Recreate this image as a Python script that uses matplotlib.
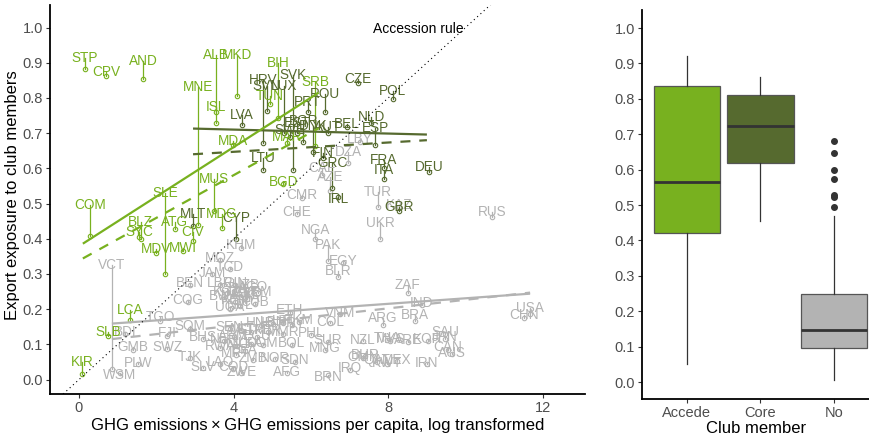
import matplotlib
matplotlib.use("Agg")
import matplotlib.pyplot as plt

plt.rcParams['font.family'] = ['Liberation Sans', 'DejaVu Sans']

# colours per club status
c_acc = "#78B11F"
c_core = "#566A2F"
c_no = "#B3B3B3"

# accession countries: code, x, label level, observed level
acc_code = ["STP", "CPV", "AND", "ALB", "MKD", "BIH", "MNE", "ISL", "TUN", "SRB",
            "MDA", "MAR", "MUS", "BGD", "COM", "SLE", "BLZ", "SYC", "ATG", "CIV",
            "MDG", "MDV", "MWI", "LCA", "SLB", "KIR"]
acc_x = [0.16, 0.70, 1.66, 3.54, 4.09, 5.15, 3.08, 3.54, 4.94, 6.11,
         3.98, 5.38, 3.49, 5.28, 0.28, 2.23, 1.60, 1.55, 2.48, 2.95,
         3.70, 1.99, 2.69, 1.32, 0.75, 0.08]
acc_lab = [0.913, 0.874, 0.905, 0.922, 0.922, 0.899, 0.831, 0.774, 0.805, 0.844,
           0.678, 0.689, 0.570, 0.561, 0.496, 0.530, 0.447, 0.419, 0.447, 0.419,
           0.470, 0.371, 0.374, 0.197, 0.135, 0.050]
acc_pt = [0.882, 0.862, 0.854, 0.760, 0.805, 0.743, 0.440, 0.729, 0.783, 0.663,
          0.666, 0.672, 0.480, 0.556, 0.408, 0.300, 0.399, 0.405, 0.428, 0.393,
          0.430, 0.359, 0.365, 0.169, 0.125, 0.016]

# core members
core_code = ["HRV", "SVK", "SVN", "LUX", "LVA", "PRT", "ROU", "CZE", "POL", "NLD",
             "ESP", "BEL", "AUT", "SWE", "EST", "BGR", "DNK", "FIN", "GRC", "IRL",
             "FRA", "ITA", "DEU", "GBR", "LTU", "MLT", "CYP"]
core_x = [4.76, 5.54, 4.86, 5.30, 4.22, 5.92, 6.36, 7.22, 8.12, 7.56,
          7.66, 6.93, 6.44, 5.46, 5.64, 5.80, 6.05, 6.31, 6.55, 6.70,
          7.89, 7.89, 9.06, 8.28, 4.76, 2.95, 4.06]
core_lab = [0.851, 0.865, 0.834, 0.834, 0.751, 0.788, 0.811, 0.854, 0.820, 0.746,
            0.714, 0.726, 0.717, 0.709, 0.730, 0.735, 0.720, 0.643, 0.615, 0.513,
            0.624, 0.595, 0.604, 0.490, 0.629, 0.470, 0.459]
core_pt = [0.672, 0.595, 0.763, 0.700, 0.723, 0.760, 0.760, 0.842, 0.797, 0.729,
           0.666, 0.717, 0.700, 0.690, 0.700, 0.675, 0.646, 0.630, 0.544, 0.520,
           0.600, 0.570, 0.589, 0.479, 0.595, 0.436, 0.400]

# non-members
no_code = ["LBY", "DZA", "CAF", "AZE", "CMR", "CHE", "NGA", "PAK", "EGY", "BLR",
           "TUR", "KAZ", "UKR", "RUS", "ZAF", "IND", "BRA", "ARG", "VNM", "COL",
           "USA", "CHN", "SAU", "JPN", "KOR", "ARE", "CAN", "AUS", "IRN", "MEX",
           "KWT", "QAT", "OMN", "BHR", "IRQ", "BRN", "NZL", "THA", "MYS", "SUR",
           "MNG", "ETH", "SDN", "AFG", "BOL", "DOM", "ZMB", "NOR", "ZWE", "COD",
           "LAO", "SLV", "TJK", "GMB", "SWZ", "PLW", "WSM", "VCT", "TGO", "FJI",
           "BDI", "SOM", "BHS", "COG", "BEN", "KHM", "MOZ", "TCD", "JAM", "LBR",
           "GIN", "KGZ", "GEO", "YEM", "TZA", "KEN", "UGA", "NPL", "LBN", "HTI",
           "PRY", "TKM", "MMR", "PHL", "SEN", "MLI", "NIC", "GTM", "ARM", "ECU",
           "PER", "LKA", "NER", "BFA", "RWA", "MRT", "HND", "GHA", "AGO", "UZB",
           "NAM", "BWA", "CUB"]
no_x = [7.27, 6.96, 6.29, 6.50, 5.77, 5.64, 6.11, 6.44, 6.83, 6.70,
        7.74, 8.28, 7.79, 10.69, 8.51, 8.87, 8.69, 7.87, 6.75, 6.49,
        11.67, 11.51, 9.47, 9.47, 9.03, 8.51, 9.55, 9.65, 9.00, 8.23,
        7.97, 7.71, 7.35, 7.40, 7.01, 6.44, 7.35, 7.97, 8.05, 6.44,
        6.36, 5.46, 5.59, 5.38, 5.51, 4.76, 4.50, 5.07, 4.20, 3.98,
        3.65, 3.21, 2.87, 1.40, 2.28, 1.53, 1.06, 0.85, 2.10, 2.28,
        1.19, 2.87, 3.21, 2.82, 2.87, 4.19, 3.65, 3.91, 3.44, 3.65,
        4.04, 3.83, 4.35, 4.63, 4.35, 4.04, 3.91, 4.17, 5.02, 5.28,
        5.51, 5.70, 5.28, 6.00, 3.90, 4.20, 4.10, 4.45, 4.00, 4.60,
        4.90, 4.45, 3.75, 4.30, 3.65, 4.05, 4.70, 4.00, 4.50, 4.30,
        4.20, 3.75, 4.55]
no_lab = [0.683, 0.646, 0.601, 0.575, 0.524, 0.476, 0.425, 0.382, 0.337, 0.308,
          0.533, 0.496, 0.445, 0.476, 0.268, 0.217, 0.183, 0.175, 0.189, 0.163,
          0.202, 0.183, 0.135, 0.121, 0.115, 0.112, 0.092, 0.075, 0.047, 0.055,
          0.047, 0.055, 0.064, 0.070, 0.033, 0.007, 0.112, 0.118, 0.115, 0.112,
          0.089, 0.197, 0.055, 0.021, 0.104, 0.104, 0.061, 0.061, 0.021, 0.036,
          0.050, 0.036, 0.064, 0.092, 0.092, 0.047, 0.013, 0.325, 0.178, 0.132,
          0.135, 0.152, 0.121, 0.226, 0.274, 0.382, 0.345, 0.320, 0.303, 0.274,
          0.274, 0.249, 0.246, 0.249, 0.232, 0.226, 0.206, 0.212, 0.163, 0.166,
          0.160, 0.168, 0.135, 0.132, 0.150, 0.145, 0.100, 0.140, 0.125, 0.125,
          0.140, 0.105, 0.115, 0.085, 0.095, 0.075, 0.160, 0.258, 0.262, 0.270,
          0.240, 0.236, 0.220]
no_pt = [0.675, 0.615, 0.580, 0.535, 0.515, 0.470, 0.400, 0.337, 0.330, 0.291,
         0.490, 0.490, 0.399, 0.462, 0.247, 0.212, 0.166, 0.155, 0.187, 0.160,
         0.185, 0.175, 0.130, 0.115, 0.110, 0.108, 0.085, 0.072, 0.045, 0.052,
         0.044, 0.050, 0.060, 0.066, 0.028, 0.012, 0.110, 0.113, 0.110, 0.108,
         0.085, 0.190, 0.050, 0.018, 0.098, 0.098, 0.055, 0.058, 0.018, 0.030,
         0.045, 0.032, 0.060, 0.085, 0.088, 0.045, 0.020, 0.031, 0.165, 0.125,
         0.130, 0.145, 0.115, 0.220, 0.270, 0.375, 0.340, 0.315, 0.300, 0.270,
         0.268, 0.245, 0.240, 0.245, 0.228, 0.220, 0.200, 0.208, 0.158, 0.160,
         0.155, 0.163, 0.130, 0.128, 0.145, 0.140, 0.095, 0.135, 0.120, 0.120,
         0.135, 0.100, 0.110, 0.080, 0.090, 0.070, 0.155, 0.252, 0.256, 0.265,
         0.235, 0.230, 0.215]

# fitted lines: (x0, x1), solid and dashed ends
acc_fit_x = [0.10, 6.20]
acc_fit_solid = [0.386, 0.815]
acc_fit_dash = [0.344, 0.714]
core_fit_x = [2.95, 9.00]
core_fit_solid = [0.713, 0.696]
core_fit_dash = [0.640, 0.680]
no_fit_x = [0.85, 11.67]
no_fit_solid = [0.159, 0.244]
no_fit_dash = [0.115, 0.247]

# accession rule line
rule_x = [-0.75, 11.0]
rule_slope = 0.1

# box statistics per club status
box_names = ["Accede", "Core", "No"]
box_low = [0.05, 0.455, 0.005]
box_q1 = [0.42, 0.62, 0.097]
box_med = [0.565, 0.722, 0.148]
box_q3 = [0.835, 0.812, 0.248]
box_high = [0.922, 0.862, 0.47]
box_fliers = [[], [], [0.68, 0.648, 0.60, 0.573, 0.527, 0.523, 0.495]]
box_colors = [c_acc, c_core, c_no]

fig = plt.figure(figsize=(8.7, 4.38), dpi=100)
ax1 = fig.add_axes([50 / 870, 1 - 394 / 438, 535 / 870, 389 / 438])
ax2 = fig.add_axes([642 / 870, 1 - 399 / 438, 228 / 870, 389 / 438])

def draw_group(ax, codes, xs, labs, pts, col):
    for c, x, yl, yp in zip(codes, xs, labs, pts):
        ax.plot([x, x], [yl, yp], color=col, lw=0.9, zorder=2)
        ax.plot(x, yp, marker='o', ms=3.2, mfc='none', mec=col, mew=0.8, zorder=2)
        ax.text(x, yl, c, color=col, fontsize=9.8, ha='center', va='center', zorder=3)

draw_group(ax1, no_code, no_x, no_lab, no_pt, c_no)
draw_group(ax1, core_code, core_x, core_lab, core_pt, c_core)
draw_group(ax1, acc_code, acc_x, acc_lab, acc_pt, c_acc)

for fx, fs, fd, col in [(no_fit_x, no_fit_solid, no_fit_dash, c_no),
                        (core_fit_x, core_fit_solid, core_fit_dash, c_core),
                        (acc_fit_x, acc_fit_solid, acc_fit_dash, c_acc)]:
    ax1.plot(fx, fs, color=col, lw=1.6, zorder=4, solid_capstyle='butt')
    ax1.plot(fx, fd, color=col, lw=1.6, dashes=(4.5, 4), zorder=4)

ax1.plot(rule_x, [rule_slope * v for v in rule_x], color='black', lw=0.8,
         dashes=(1, 3), zorder=5)
ax1.text(8.77, 0.997, "Accession rule", fontsize=10, ha='center', va='center')

ax1.set_xlim(-0.75, 13.09)
ax1.set_ylim(-0.041, 1.064)
ax1.set_xticks([0, 4, 8, 12])
ax1.set_yticks([i / 10 for i in range(11)])
ax1.set_yticklabels(["%.1f" % (i / 10) for i in range(11)])
ax1.set_xlabel("GHG emissions\u2009\u00d7\u2009GHG emissions per capita, log transformed",
               fontsize=12, labelpad=2)
ax1.set_ylabel("Export exposure to club members", fontsize=12)
ax1.yaxis.set_label_coords(-0.056, 0.51)

# box plot panel
stats = []
for i in range(3):
    stats.append(dict(label=box_names[i], whislo=box_low[i], q1=box_q1[i],
                      med=box_med[i], q3=box_q3[i], whishi=box_high[i],
                      fliers=box_fliers[i]))
bp = ax2.bxp(stats, positions=[1, 2, 3], widths=0.9, patch_artist=True,
             showcaps=False,
             boxprops=dict(edgecolor='#555555', lw=0.9),
             medianprops=dict(color='#333333', lw=2),
             whiskerprops=dict(color='#333333', lw=0.9),
             flierprops=dict(marker='o', ms=4, mfc='#333333', mec='#333333'))
for patch, col in zip(bp['boxes'], box_colors):
    patch.set_facecolor(col)
ax2.set_xlim(0.39, 3.49)
ax2.set_ylim(-0.048, 1.051)
ax2.set_yticks([i / 10 for i in range(11)])
ax2.set_yticklabels(["%.1f" % (i / 10) for i in range(11)])
ax2.set_xlabel("Club member", fontsize=12, labelpad=1)

for ax in (ax1, ax2):
    for s in ("top", "right"):
        ax.spines[s].set_visible(False)
    for s in ("left", "bottom"):
        ax.spines[s].set_linewidth(1.3)
    ax.tick_params(labelsize=10.5, labelcolor='#4D4D4D', color='#333333',
                   length=3, width=0.8, pad=2)

fig.savefig("out.png", dpi=100)
